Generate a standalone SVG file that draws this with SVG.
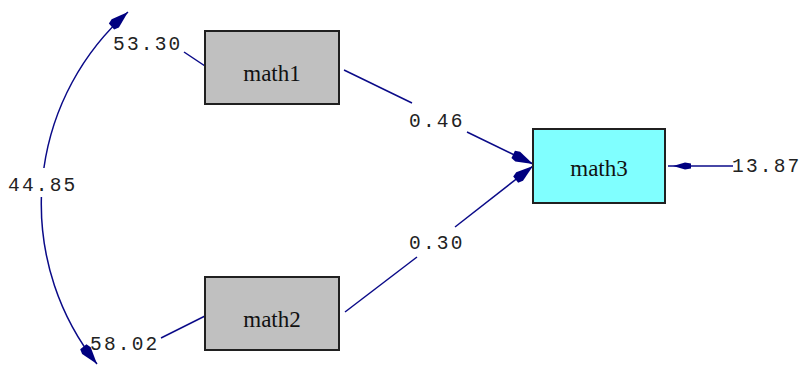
<svg xmlns="http://www.w3.org/2000/svg" width="804" height="365" viewBox="0 0 804 365">
  <style>
    .box { stroke: #202020; stroke-width: 2; }
    .obs { fill: #c0c0c0; }
    .lat { fill: #80ffff; }
    .name { font-family: "Liberation Serif", "Times New Roman", serif; font-size: 23px; fill: #111; text-anchor: middle; }
    .val { font-family: "Liberation Mono", "Courier New", monospace; font-size: 19.5px; letter-spacing: 2.2px; fill: #222; }
    .edge { fill: none; stroke: #0a0a88; stroke-width: 1.5; }
  </style>
  <defs>
    <marker id="head" markerUnits="userSpaceOnUse" markerWidth="26" markerHeight="14" viewBox="-24 -7 26 14" refX="0" refY="0" orient="auto-start-reverse">
      <path d="M0,0 L-17,-5.5 L-22,-4 L-22,4 L-17,5.5 Z" fill="#000080"/>
    </marker>
  </defs>
  <rect width="804" height="365" fill="#ffffff"/>

  <!-- connectors -->
  <g id="connectors">
    <!-- covariance between math1 and math2 -->
    <path class="edge" d="M128,12 A256.5,256.5 0 0 0 43.9,168" marker-start="url(#head)"/>
    <path class="edge" d="M41.4,197 A256.5,256.5 0 0 0 97,364" marker-end="url(#head)"/>
    <!-- variance ticks -->
    <line class="edge" x1="184" y1="52" x2="205" y2="66"/>
    <line class="edge" x1="161" y1="338" x2="205" y2="316"/>
    <!-- path math1 -> math3 -->
    <line class="edge" x1="344" y1="70" x2="412" y2="103"/>
    <line class="edge" x1="467" y1="132" x2="533" y2="164" marker-end="url(#head)"/>
    <!-- path math2 -> math3 -->
    <line class="edge" x1="345" y1="312" x2="417" y2="257"/>
    <line class="edge" x1="455" y1="227" x2="533" y2="166" marker-end="url(#head)"/>
    <!-- error term on math3 -->
    <line class="edge" x1="733" y1="166" x2="668" y2="166"/>
    <path d="M673,166 L685,162.5 L691,163.5 L691,168.5 L685,169.5 Z" fill="#000080"/>
  </g>

  <!-- labels on connectors -->
  <g id="labels">
    <text class="val" x="113" y="50">53.30</text>
    <text class="val" x="8" y="191">44.85</text>
    <text class="val" x="90" y="350">58.02</text>
    <text class="val" x="409" y="127">0.46</text>
    <text class="val" x="409" y="249">0.30</text>
    <text class="val" x="732" y="172">13.87</text>
  </g>

  <g id="math1">
    <rect class="box obs" x="205" y="31" width="134" height="73"/>
    <text class="name" x="272" y="81">math1</text>
  </g>
  <g id="math2">
    <rect class="box obs" x="205" y="277" width="134" height="73"/>
    <text class="name" x="272" y="327">math2</text>
  </g>
  <g id="math3">
    <rect class="box lat" x="533" y="129" width="132" height="74"/>
    <text class="name" x="599" y="176">math3</text>
  </g>
</svg>
